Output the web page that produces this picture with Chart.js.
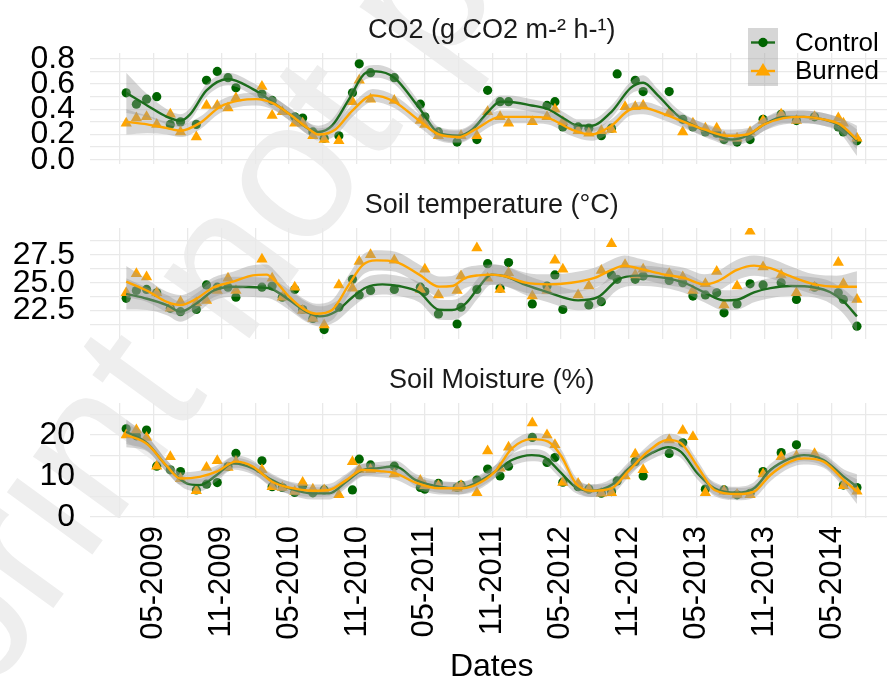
<!DOCTYPE html>
<html>
<head>
<meta charset="utf-8">
<title>CO2, soil temperature and soil moisture</title>
<script src="https://cdn.jsdelivr.net/npm/chart.js@4.4.1/dist/chart.umd.min.js"></script>
<style>
  html, body { margin: 0; padding: 0; background: #fff; }
  body { position: relative; width: 887px; height: 685px; overflow: hidden; }
  canvas { position: absolute; left: 0; }
  #wm {
    position: absolute; left: -203px; top: 961px;
    transform-origin: 0 0; transform: rotate(-54deg) translateY(-169px);
    font: 200px "Liberation Sans", Arial, sans-serif; line-height: 1;
    color: #eeeeee; white-space: nowrap;
  }
</style>
</head>
<body>
<div id="wm">Preprint not peer reviewed</div>
<canvas id="c1" width="900" height="170" style="top:0"></canvas>
<canvas id="c2" width="900" height="170" style="top:175px"></canvas>
<canvas id="c3" width="900" height="335" style="top:350px"></canvas>
<script>
// x values are months counted from 01-2009 (4 = 05-2009)
const sampleMonths = [1.6, 2.5, 3.4, 4.3, 5.5, 6.4, 7.8, 8.7, 9.65, 10.6,
  11.3, 13.6, 14.5, 15.4, 16.5, 17.2, 18.1, 19.1, 20.4, 21.6,
  22.2, 23.2, 25.3, 27.6, 28.0, 29.2, 30.85, 31.2, 32.6, 33.55,
  34.65, 35.4, 37.5, 38.8, 39.5, 40.2, 41.55, 42.5, 43.6, 44.5,
  45.0, 45.7, 46.6, 47.3, 49.6, 50.8, 51.7, 52.8, 53.8, 54.45,
  55.6, 56.75, 57.9, 59.5, 60.85, 62.45, 64.55, 65.0, 66.2];

const co2Control = [0.53, 0.44, 0.48, 0.50, 0.28, 0.30, 0.28, 0.63, 0.70, 0.65,
  0.57, 0.52, 0.47, null, 0.34, 0.33, 0.22, 0.17, 0.19, 0.53,
  0.76, 0.69, 0.65, 0.44, 0.34, 0.22, 0.14, null, 0.16, 0.55,
  0.46, 0.46, null, 0.43, 0.46, 0.26, 0.26, 0.25, 0.19, 0.25,
  0.68, null, 0.63, 0.54, 0.54, 0.32, 0.26, 0.22, 0.21, 0.16,
  0.14, 0.16, 0.32, 0.36, 0.31, 0.34, 0.26, 0.22, 0.15];
const co2Burned = [0.29, 0.33, 0.34, 0.28, 0.36, 0.22, 0.18, 0.43, 0.43, 0.41,
  0.49, 0.58, 0.35, 0.38, 0.29, 0.29, 0.19, 0.16, 0.15, 0.46,
  0.63, 0.48, 0.47, 0.31, 0.28, 0.19, null, 0.19, 0.19, 0.38,
  0.34, 0.29, 0.30, 0.34, 0.40, 0.30, 0.23, 0.21, 0.23, 0.24,
  null, 0.42, 0.42, 0.43, 0.37, 0.22, 0.29, 0.25, 0.25, 0.18,
  0.17, 0.22, 0.31, 0.36, 0.31, 0.34, 0.33, 0.29, 0.17];

const tempControl = [23.6, 24.3, 24.4, 24.1, 22.7, 22.4, 22.6, 24.8, 24.6, 24.6,
  23.7, 24.6, 24.7, 23.7, 24.4, 22.6, 21.8, 20.8, 22.8, 25.3,
  23.9, 24.3, 24.4, 24.6, 24.2, 22.2, 21.3, 22.8, 24.4, 26.7,
  24.5, 26.8, 23.1, 24.7, 25.7, 22.6, null, 23.0, 23.3, 25.7,
  25.3, null, 25.3, 25.6, 25.2, 25.0, 23.8, 23.9, 24.1, 22.3,
  23.1, 24.9, 24.8, 25.0, 23.5, 24.6, 24.1, 23.5, 21.1];
const tempBurned = [24.1, 25.8, 25.5, 24.1, 22.7, 23.3, 23.2, 23.4, 24.3, 25.4,
  24.3, 27.1, 25.4, 23.7, 24.6, 22.5, 21.8, 21.2, 24.8, 24.5,
  26.9, 27.5, 27.0, 24.4, 26.2, 23.9, 24.3, 25.6, 28.1, 25.4,
  24.4, 25.9, 23.8, 24.3, 27.0, 26.2, 23.9, 24.7, 26.1, 28.5,
  null, 26.6, 25.7, 26.2, 25.8, 25.5, 24.3, 24.9, 26.0, 23.0,
  24.7, 29.6, 26.4, 25.7, 24.1, 24.6, 26.8, 24.9, 23.5];

const moistControl = [21.5, 19.8, 21.2, 12.4, 11.5, 11.1, 6.6, 8.0, 8.4, 12.3,
  15.5, 13.7, 7.4, 7.2, 6.0, 7.6, 5.9, 6.6, null, 6.6,
  14.1, 12.7, 12.4, 7.2, 6.8, 8.2, 7.2, 7.8, 9.0, 11.7,
  10.0, 12.4, 19.4, 13.3, 14.5, 8.5, 7.4, 6.8, 5.8, 6.2,
  8.8, null, 13.5, 10.0, 15.5, 18.1, null, 6.8, null, 6.6,
  5.4, 5.8, 11.1, 15.7, 17.6, null, null, 7.8, 7.2];
const moistBurned = [20.0, 21.2, 19.4, 12.4, 14.7, 9.3, 6.4, 12.1, 13.7, 12.1,
  13.5, 11.5, 7.4, 7.2, 6.2, 8.4, 6.8, 6.6, 5.4, 13.5,
  11.5, 11.5, 10.5, 8.9, 7.6, 7.6, 7.0, 7.6, 5.9, 16.1,
  11.9, 17.0, 22.9, 20.0, 17.6, 8.4, 8.2, 6.8, 5.8, 5.9,
  null, 10.0, 15.3, 11.5, 18.8, 21.1, 19.6, 5.9, null, 6.3,
  5.5, 5.4, 10.5, 14.7, 14.9, 15.4, null, 7.6, 6.3];

// smoothed fits: [month, fitted value, half-width of the confidence band]
const co2ControlFit = [[1.6,.53,.16],[3.45,.43,.09],[5.2,.34,.06],[6.4,.31,.05],[7.25,.36,.05],
  [8.7,.55,.05],[10.6,.64,.05],[12.8,.56,.05],[14.5,.46,.05],[16.05,.36,.05],[17.8,.24,.05],
  [18.6,.22,.05],[19.8,.27,.05],[21.3,.48,.05],[22.8,.69,.05],[23.7,.70,.05],[25.3,.65,.05],
  [27.5,.41,.05],[29.25,.21,.05],[31,.19,.05],[32.2,.24,.05],[33.6,.38,.05],[34.65,.46,.05],
  [35.3,.46,.05],[37.45,.43,.05],[38.9,.40,.05],[40.4,.32,.05],[41.55,.27,.05],[42.7,.27,.05],
  [44.5,.38,.05],[46.2,.57,.05],[47.3,.61,.06],[48.6,.51,.05],[50.35,.35,.05],[51.8,.27,.05],
  [53.6,.20,.05],[55.05,.16,.05],[56.5,.19,.05],[58,.28,.05],[59.7,.34,.05],[61.5,.34,.05],
  [63.25,.32,.05],[64.7,.27,.06],[66.2,.15,.12]];
const co2BurnedFit = [[1.6,.30,.10],[3.45,.28,.07],[5.2,.25,.05],[6.4,.23,.05],[8.1,.29,.05],
  [9.9,.42,.05],[11.65,.47,.05],[13.1,.48,.05],[14.5,.45,.05],[16.05,.36,.05],[17.8,.24,.05],
  [18.6,.20,.05],[20.1,.24,.05],[21.6,.39,.05],[23.4,.51,.05],[25.3,.46,.05],[27.5,.31,.05],
  [29.25,.20,.05],[31,.18,.05],[32.45,.24,.05],[34.65,.34,.05],[37.2,.34,.05],[38.9,.33,.05],
  [40.95,.24,.05],[42.7,.20,.05],[44.5,.27,.05],[46.2,.40,.05],[47.3,.41,.05],[49.2,.36,.05],
  [50.9,.30,.05],[52.7,.24,.05],[54.75,.19,.05],[56.5,.20,.05],[58,.28,.05],[59.7,.33,.05],
  [61.5,.34,.05],[63.25,.32,.05],[64.7,.28,.05],[66.2,.16,.08]];

const tempControlFit = [[1.6,24.0,1.4],[3.45,23.56,1.0],[5.2,22.99,0.9],[6.4,22.4,0.9],[7.8,23.13,0.9],
  [9.3,24.28,0.9],[11.05,24.63,0.9],[13.4,24.57,0.9],[14.5,24.42,0.9],[16.05,23.42,0.9],
  [17.5,22.4,0.9],[18.7,21.98,0.9],[20.1,22.4,0.9],[21.6,23.7,0.9],[22.8,24.57,0.9],
  [24.25,24.85,0.9],[25.7,24.7,0.9],[27.5,24.14,0.9],[29.25,22.58,0.9],[30.4,22.56,0.9],
  [31.6,23.13,0.9],[32.75,24.57,0.9],[33.9,25.72,0.9],[35.1,25.58,0.9],[36.9,24.8,0.9],
  [38.9,24.14,0.9],[41.55,23.42,0.9],[43.3,23.7,0.9],[45.1,25.3,0.9],[46.8,25.63,0.9],
  [49.2,25.43,0.9],[50.9,25.0,0.9],[52.7,24.14,0.9],[54.45,23.42,0.9],[55.6,23.47,0.9],
  [57.1,24.14,0.9],[58.55,24.51,0.9],[60.3,24.7,0.9],[62.45,24.57,0.9],[63.85,24.14,1.0],
  [65.05,23.28,1.1],[66.2,21.98,1.4]];
const tempBurnedFit = [[1.6,25.09,1.4],[3.45,24.28,1.0],[5.2,23.28,0.9],[6.4,22.99,0.9],[7.8,23.56,0.9],
  [9.3,24.57,0.9],[11.05,25.09,0.9],[12.8,25.66,0.9],[14.0,25.72,0.9],[14.9,25.0,0.9],
  [16.05,23.7,0.9],[17.2,22.7,0.9],[18.4,22.22,0.9],[19.8,22.56,0.9],[21.3,24.85,0.9],
  [22.5,26.58,0.9],[23.7,27.0,0.9],[25.4,26.87,0.9],[27.5,25.72,0.9],[29.25,24.65,0.9],
  [30.4,24.7,0.9],[31.6,25.43,0.9],[32.75,25.66,0.9],[33.9,25.72,0.9],[35.1,25.58,0.9],
  [36.9,25.0,0.9],[38.9,24.85,0.9],[40.95,25.0,0.9],[43.0,25.43,0.9],[44.5,26.15,0.9],
  [45.65,26.53,0.9],[46.8,26.3,0.9],[49.2,25.72,0.9],[50.9,25.43,0.9],[52.7,24.85,0.9],
  [53.9,25.15,0.9],[55.6,26.15,0.9],[57.1,26.53,0.9],[58.55,26.3,0.9],[60.3,25.58,0.9],
  [62.45,24.85,0.9],[64.4,24.63,1.0],[66.2,24.63,1.4]];

const moistControlFit = [[1.6,20.8,3.0],[3.45,18.0,1.8],[5.2,12.3,1.5],[6.95,8.2,1.5],[8.1,7.8,1.5],
  [9.6,10.24,1.5],[11.05,13.1,1.5],[12.8,11.87,1.5],[14.5,9.0,1.5],[16.05,7.0,1.5],
  [18.1,5.77,1.5],[19.55,5.77,1.5],[21.05,8.6,1.5],[22.5,11.46,1.5],[23.7,11.87,1.5],
  [25.4,12.3,1.5],[27.2,9.0,1.5],[29.25,7.4,1.5],[31,7.0,1.5],[32.45,8.2,1.5],
  [34.2,11.05,1.5],[35.7,13.9,1.5],[37.45,15.1,1.5],[38.6,14.55,1.5],[39.8,11.46,1.5],
  [41.3,7.4,1.5],[42.7,6.4,1.5],[44.5,7.8,1.5],[46.2,12.3,1.5],[48.0,15.5,1.5],
  [49.5,17.0,1.5],[50.65,15.9,1.5],[52.1,10.66,1.5],[53.6,7.0,1.5],[55.6,5.9,1.5],
  [57.1,7.0,1.5],[58.55,11.46,1.5],[60.3,14.3,1.5],[61.5,15.1,1.5],[63.25,13.9,1.5],
  [65.05,9.8,1.8],[66.2,7.4,3.0]];
const moistBurnedFit = [[1.6,20.0,3.0],[3.45,17.8,1.8],[5.2,12.4,1.5],[6.4,9.4,1.5],[8.1,9.8,1.5],
  [9.6,11.05,1.5],[11.3,13.5,1.5],[12.8,12.3,1.5],[14.5,8.6,1.5],[16.05,7.15,1.5],
  [18.1,6.4,1.5],[19.55,6.6,1.5],[21.05,9.0,1.5],[22.5,11.46,1.5],[24.0,11.2,1.5],
  [25.4,10.66,1.5],[27.2,8.37,1.5],[29.25,7.0,1.5],[31,7.0,1.5],[32.45,7.8,1.5],
  [34.2,11.05,1.5],[35.7,16.75,1.5],[37.45,19.0,1.5],[38.9,18.4,1.5],[40.1,14.7,1.5],
  [41.3,8.37,1.5],[42.7,6.4,1.5],[44.5,7.0,1.5],[45.95,11.05,1.5],[47.7,15.9,1.5],
  [49.5,18.8,1.5],[50.65,18.0,1.5],[52.1,12.3,1.5],[53.6,6.6,1.5],[55.6,5.6,1.5],
  [57.1,6.2,1.5],[58.55,10.24,1.5],[60.3,13.5,1.5],[61.5,14.3,1.5],[63.25,13.5,1.5],
  [65.05,9.0,1.8],[66.2,6.2,3.0]];

// axis ticks (grid at every tick, label only where given)
const xTicks = [1, 4, 7, 10, 13, 16, 19, 22, 25, 28, 31, 34, 37, 40, 43, 46, 49, 52, 55, 58, 61, 64, 67];
const xTickLabels = ['', '05-2009', '', '11-2009', '', '05-2010', '', '11-2010', '', '05-2011', '', '11-2011',
  '', '05-2012', '', '11-2012', '', '05-2013', '', '11-2013', '', '05-2014', ''];
const co2Ticks = [0, 0.1, 0.2, 0.3, 0.4, 0.5, 0.6, 0.7, 0.8];
const co2TickLabels = ['0.0', '', '0.2', '', '0.4', '', '0.6', '', '0.8'];
const tempTicks = [21.25, 22.5, 23.75, 25, 26.25, 27.5, 28.75];
const tempTickLabels = ['', '22.5', '', '25.0', '', '27.5', ''];
const moistTicks = [0, 5, 10, 15, 20, 25];
const moistTickLabels = ['0', '', '10', '', '20', ''];

const FONT = '"Liberation Sans", Arial, sans-serif';
const GREEN = '#006400';
const GREEN_LINE = '#1d6d1d';
const ORANGE = '#ffa500';
const BAND = 'rgba(153,153,153,0.4)';
const GRID = '#e9e9e9';

function points(values) {
  return sampleMonths
    .map((m, i) => values[i] == null ? null : { x: m, y: values[i] })
    .filter(p => p);
}
function fitLine(fit, side) {
  return fit.map(r => ({ x: r[0], y: r[1] + side * r[2] }));
}

function panelDatasets(ctrl, burn, ctrlFit, burnFit) {
  const curve = { pointRadius: 0, pointHitRadius: 0, cubicInterpolationMode: 'monotone' };
  const edge = Object.assign({}, curve, { borderWidth: 0, borderColor: 'transparent', backgroundColor: BAND });
  return [
    { label: 'Control', data: points(ctrl), showLine: false, pointRadius: 4.6,
      pointBackgroundColor: GREEN, pointBorderWidth: 0, pointBorderColor: 'transparent', order: 7 },
    { label: 'Burned', data: points(burn), showLine: false, pointStyle: 'triangle', pointRadius: 6.5,
      pointBackgroundColor: ORANGE, pointBorderWidth: 0, pointBorderColor: 'transparent', order: 6 },
    Object.assign({ data: fitLine(ctrlFit, 1), fill: false, order: 5 }, edge),
    Object.assign({ data: fitLine(ctrlFit, -1), fill: '-1', order: 5 }, edge),
    Object.assign({ data: fitLine(ctrlFit, 0), borderColor: GREEN_LINE, borderWidth: 2.4, order: 4 }, curve),
    Object.assign({ data: fitLine(burnFit, 1), fill: false, order: 3 }, edge),
    Object.assign({ data: fitLine(burnFit, -1), fill: '-1', order: 3 }, edge),
    Object.assign({ data: fitLine(burnFit, 0), borderColor: ORANGE, borderWidth: 2.4, order: 2 }, curve)
  ];
}

function panelOptions(title, yMin, yMax, yTicks, yLabels, bottomPanel, padBottom) {
  return {
    responsive: false,
    animation: false,
    events: [],
    layout: { padding: { left: 0, right: 3, top: 0, bottom: padBottom } },
    plugins: {
      legend: { display: false },
      tooltip: { enabled: false },
      title: {
        display: true, text: title, fullSize: false, color: '#1a1a1a',
        font: { family: FONT, size: 27, weight: 'normal', lineHeight: 1.2 },
        padding: { top: 14.3, bottom: 6.3 }
      }
    },
    scales: {
      x: {
        type: 'linear', min: -1.6, max: 69.43,
        afterBuildTicks: s => { s.ticks = xTicks.map(v => ({ value: v })); },
        afterFit: s => { s.height = bottomPanel ? 167 : 0; s.paddingLeft = 0; s.paddingRight = 0; },
        grid: { color: GRID, lineWidth: 1.3, drawTicks: false },
        border: { display: false },
        ticks: {
          display: bottomPanel, autoSkip: false, minRotation: 90, maxRotation: 90,
          padding: 8, color: '#000', font: { family: FONT, size: 31 },
          callback: (v, i) => xTickLabels[i]
        },
        title: {
          display: bottomPanel, text: 'Dates', color: '#000',
          font: { family: FONT, size: 32, lineHeight: 1 },
          padding: { top: 0, bottom: 1.5 }
        }
      },
      y: {
        min: yMin, max: yMax,
        afterBuildTicks: s => { s.ticks = yTicks.map(v => ({ value: v })); },
        // fixed axis width; labels may overhang the panel edges as in the figure
        afterFit: s => { s.width = 90; s.paddingTop = 0; s.paddingBottom = 0; },
        grid: { color: GRID, lineWidth: 1.3, drawTicks: false },
        border: { display: false },
        ticks: {
          autoSkip: false, padding: 15, color: '#000', font: { family: FONT, size: 32 },
          callback: (v, i) => yLabels[i]
        }
      }
    }
  };
}

// legend drawn at the top right of the first panel, as in the figure
const keyLegend = {
  id: 'keyLegend',
  afterDraw(chart) {
    const ctx = chart.ctx;
    ctx.save();
    ctx.fillStyle = BAND;
    ctx.fillRect(748, 28, 30, 58);
    ctx.lineWidth = 2.4;
    ctx.strokeStyle = GREEN_LINE;
    ctx.beginPath(); ctx.moveTo(751, 42.5); ctx.lineTo(775, 42.5); ctx.stroke();
    ctx.fillStyle = GREEN;
    ctx.beginPath(); ctx.arc(763, 42.5, 4.7, 0, Math.PI * 2); ctx.fill();
    ctx.strokeStyle = ORANGE;
    ctx.beginPath(); ctx.moveTo(751, 71); ctx.lineTo(775, 71); ctx.stroke();
    ctx.fillStyle = ORANGE;
    ctx.beginPath(); ctx.moveTo(763, 63); ctx.lineTo(770.5, 75.5); ctx.lineTo(755.5, 75.5); ctx.closePath(); ctx.fill();
    ctx.fillStyle = '#000';
    ctx.font = '26px ' + FONT;
    ctx.textBaseline = 'middle';
    ctx.textAlign = 'left';
    ctx.fillText('Control', 795, 44);
    ctx.fillText('Burned', 795, 72);
    ctx.restore();
  }
};

new Chart(document.getElementById('c1'), {
  type: 'line',
  data: { datasets: panelDatasets(co2Control, co2Burned, co2ControlFit, co2BurnedFit) },
  options: panelOptions('CO2 (g CO2 m-² h-¹)', -0.03, 0.846, co2Ticks, co2TickLabels, false, 3),
  plugins: [keyLegend]
});
new Chart(document.getElementById('c2'), {
  type: 'line',
  data: { datasets: panelDatasets(tempControl, tempBurned, tempControlFit, tempBurnedFit) },
  options: panelOptions('Soil temperature (°C)', 20.0, 29.9, tempTicks, tempTickLabels, false, 2)
});
new Chart(document.getElementById('c3'), {
  type: 'line',
  data: { datasets: panelDatasets(moistControl, moistBurned, moistControlFit, moistBurnedFit) },
  options: panelOptions('Soil Moisture (%)', -0.24, 27.8, moistTicks, moistTickLabels, true, 0)
});
</script>
</body>
</html>
